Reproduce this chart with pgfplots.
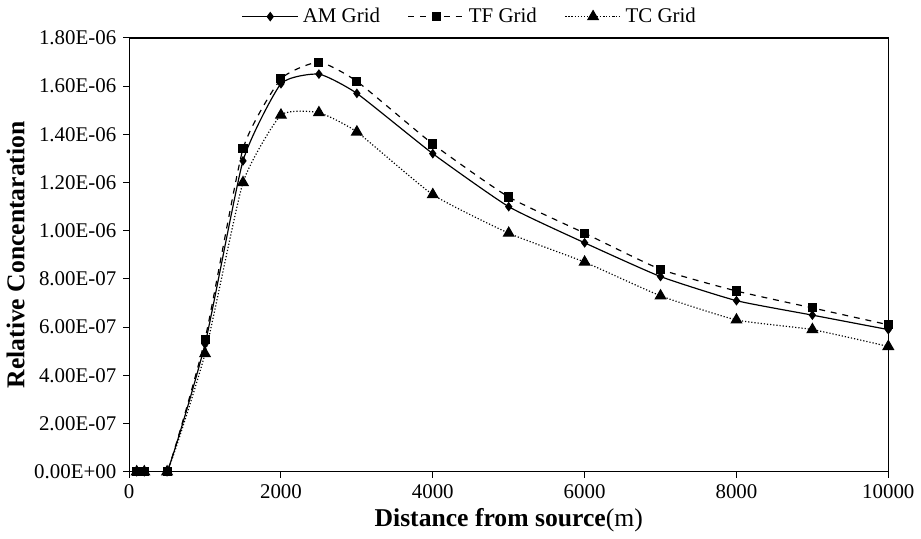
\documentclass[border=0pt]{standalone}
\usepackage{pgfplots}
\pgfplotsset{compat=1.18}
\usepackage{fontspec}
\setmainfont{Liberation Serif}
\begin{document}
\begin{tikzpicture}
\begin{axis}[
  scale only axis,
  width=385pt, height=220pt,
  xmin=0, xmax=10000, ymin=0, ymax=1.8e-6,
  xtick={0,2000,4000,6000,8000,10000},
  xticklabels={0,2000,4000,6000,8000,10000},
  ytick={0,2e-7,4e-7,6e-7,8e-7,1e-6,1.2e-6,1.4e-6,1.6e-6,1.8e-6},
  yticklabels={0.00E+00,2.00E-07,4.00E-07,6.00E-07,8.00E-07,1.00E-06,1.20E-06,1.40E-06,1.60E-06,1.80E-06},
  scaled ticks=false,
  tick align=outside, xtick pos=bottom, ytick pos=left,
  major tick length=3pt,
  tick style={black, line width=0.5pt},
  axis line style={line width=0.6pt},
  ticklabel style={font=\fontsize{10.6}{12}\selectfont},
  xlabel={\textbf{Distance from source}(m)},
  ylabel={\textbf{Relative Concentaration}},
  label style={font=\fontsize{13}{14}\selectfont},
  xlabel style={yshift=2pt},
  ylabel style={yshift=-2pt},
  legend style={at={(0.45,1.01)}, anchor=south, draw=none, legend columns=3,
    font=\fontsize{10.6}{12}\selectfont,
    /tikz/every even column/.append style={column sep=12pt}},
  legend image code/.code={
    \draw[#1, mark repeat=2, mark phase=2] plot coordinates {(0cm,0cm) (0.5cm,0cm) (1.0cm,0cm)};},
]
\addplot[black, line width=0.6pt, smooth, tension=0.3, mark=diamond*, mark size=2pt, mark options={solid}] coordinates {
(100,0) (200,0) (500,0) (1000,5.3e-7) (1500,1.29e-6) (2000,1.61e-6) (2500,1.65e-6) (3000,1.57e-6) (4000,1.32e-6) (5000,1.10e-6) (6000,0.95e-6) (7000,0.81e-6) (8000,0.71e-6) (9000,0.65e-6) (10000,0.59e-6)};
\addlegendentry{AM Grid}
\addplot[black, line width=0.6pt, dashed, smooth, tension=0.3, mark=square*, mark size=2pt, mark options={solid}] coordinates {
(100,0) (200,0) (500,0) (1000,5.5e-7) (1500,1.34e-6) (2000,1.63e-6) (2500,1.70e-6) (3000,1.62e-6) (4000,1.36e-6) (5000,1.14e-6) (6000,0.99e-6) (7000,0.84e-6) (8000,0.75e-6) (9000,0.68e-6) (10000,0.61e-6)};
\addlegendentry{TF Grid}
\addplot[black, line width=0.6pt, densely dotted, smooth, tension=0.3, mark=triangle*, mark size=3pt, mark options={solid}] coordinates {
(100,0) (200,0) (500,0) (1000,4.9e-7) (1500,1.20e-6) (2000,1.48e-6) (2500,1.49e-6) (3000,1.41e-6) (4000,1.15e-6) (5000,0.99e-6) (6000,0.87e-6) (7000,0.73e-6) (8000,0.63e-6) (9000,0.59e-6) (10000,0.52e-6)};
\addlegendentry{TC Grid}
\end{axis}
\end{tikzpicture}
\end{document}
